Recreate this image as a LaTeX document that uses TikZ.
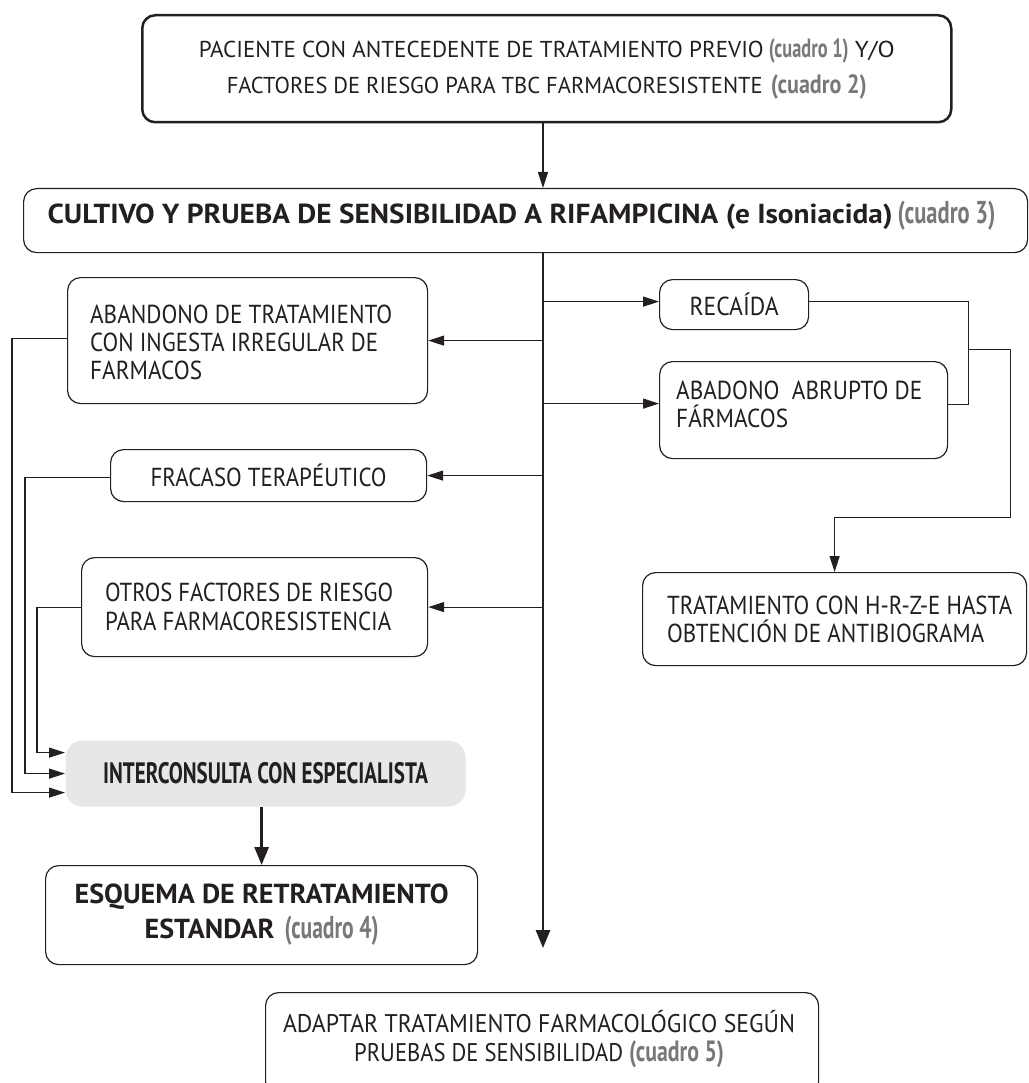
\documentclass[tikz,border=0pt]{standalone}
\usepackage{fontspec}
\setmainfont{PT Sans}
\usetikzlibrary{arrows.meta}

\definecolor{ink}{HTML}{231F20}
\definecolor{refgray}{HTML}{77787B}
\definecolor{panel}{HTML}{E6E7E8}

% set a piece of text to an exact measure, scaling it horizontally
\newcommand\fitto[2]{\sbox0{#2}\pgfmathsetmacro\fitratio{#1/\wd0}\scalebox{\fitratio}[1]{\usebox0}}
% grey bold cross reference "(cuadro n)", a little larger than the running text
\newcommand\graytag[2]{\fitto{#1}{\fontsize{\fpeval{1.15*\csname f@size\endcsname}}{10}\selectfont\bfseries\color{refgray}#2}}

\begin{document}
\begin{tikzpicture}[x=1pt,y=-1pt,
  box/.style={draw=ink, line width=1.2pt, rounded corners=13pt, anchor=north west,
              inner sep=0pt, text=ink},
  txt/.style={anchor=west, align=left, inner sep=0pt, text=ink},
  link/.style={draw=ink, line width=1.2pt},
  arr/.style={link, -{Triangle[length=16pt,width=10pt]}},
  heavy/.style={draw=ink, line width=2.8pt, -{Triangle[length=18pt,width=14pt]}},
  body/.style={font=\fontsize{26}{28}\selectfont},
]
\useasboundingbox (0,0) rectangle (1028,1083);
\clip (0,0) rectangle (1028,1083);

% ---------- boxes ----------
\node[box, line width=2.5pt, minimum width=809pt, minimum height=107pt, align=center,
      font=\fontsize{23}{36}\selectfont] (top) at (141,14)
  {\fitto{565}{PACIENTE CON ANTECEDENTE DE TRATAMIENTO PREVIO}\hspace{5pt}\graytag{80}{(cuadro 1)}\hspace{6pt}\fitto{40}{Y/O}\\
   \fitto{536}{FACTORES DE RIESGO PARA TBC FARMACORESISTENTE}\hspace{8pt}\graytag{96}{(cuadro 2)}};

\node[box, minimum width=1004pt, minimum height=64pt] (cult) at (23,188) {};
\node[anchor=center, inner sep=0pt, text=ink, font=\fontsize{27.5}{30}\selectfont] (cult-t)
  at ([xshift=-4pt,yshift=5pt]cult.center)
  {\fitto{845}{\bfseries CULTIVO Y PRUEBA DE SENSIBILIDAD A RIFAMPICINA (e Isoniacida)}\hspace{5pt}\graytag{98}{(cuadro 3)}};

\node[box, minimum width=360pt, minimum height=126pt] (aban) at (67,277) {};
\node[txt, body] (aban-t) at ([xshift=23pt,yshift=-2pt]aban.west)
  {\fitto{302}{ABANDONO DE TRATAMIENTO}\\ \fitto{288}{CON INGESTA IRREGULAR DE}\\ \fitto{112}{FARMACOS}};

\node[box, minimum width=316pt, minimum height=52pt, body] (frac) at (110,449)
  {\fitto{236}{FRACASO TERAPÉUTICO}};

\node[box, minimum width=346pt, minimum height=99pt] (otros) at (81,557) {};
\node[txt, font=\fontsize{26}{29}\selectfont] (otros-t) at ([xshift=24pt]otros.west)
  {\fitto{288}{OTROS FACTORES DE RIESGO}\\ \fitto{286}{PARA FARMACORESISTENCIA}};

\node[box, draw=none, fill=panel, rounded corners=17pt, minimum width=400pt, minimum height=66pt,
      font=\fontsize{29.5}{30}\selectfont\bfseries] (inter) at (65,740)
  {\fitto{325}{INTERCONSULTA CON ESPECIALISTA}};

\node[box, minimum width=432pt, minimum height=99pt, align=center,
      font=\fontsize{27.5}{35}\selectfont\bfseries] (esq) at (45,865)
  {\fitto{374}{ESQUEMA DE RETRATAMIENTO}\\ \fitto{130}{ESTANDAR}\hspace{10pt}\graytag{94}{(cuadro 4)}};

\node[box, minimum width=149pt, minimum height=50pt, body] (recai) at (659,279)
  {\fitto{89}{RECAÍDA}};

\node[box, minimum width=288pt, minimum height=97pt] (abru) at (659,361) {};
\node[txt, body] (abru-t) at ([xshift=17pt,yshift=5.5pt]abru.west)
  {\fitto{246}{ABADONO~~ABRUPTO DE}\\ \fitto{112}{FÁRMACOS}};

\node[box, minimum width=384pt, minimum height=93pt] (trat) at (642,572) {};
\node[txt, body] (trat-t) at ([xshift=25pt]trat.west)
  {\fitto{345}{TRATAMIENTO CON H-R-Z-E HASTA}\\ \fitto{317}{OBTENCIÓN DE ANTIBIOGRAMA}};

\node[box, minimum width=553pt, minimum height=102pt] (adapt) at (265,992) {};
\node[anchor=center, align=center, inner sep=0pt, text=ink, font=\fontsize{25.5}{29}\selectfont] (adapt-t)
  at ([xshift=-3pt,yshift=4.5pt]adapt.center)
  {\fitto{512}{ADAPTAR TRATAMIENTO FARMACOLÓGICO SEGÚN}\\ \fitto{269}{PRUEBAS DE SENSIBILIDAD}\hspace{6pt}\graytag{95}{(cuadro 5)}};

% ---------- main axis ----------
\coordinate (axis) at (543,0);
\coordinate (trunkend) at (543,948);
\draw[arr] (top.south -| axis) -- (cult.north -| axis);
\draw[heavy] (cult.south -| axis) -- (trunkend);

% branches off the axis
\draw[arr] (axis |- aban.east) -- (aban.east);
\draw[arr] (axis |- frac.east) -- (frac.east);
\draw[arr] (axis |- otros.east) -- (otros.east);
\path ([yshift=3pt]recai.west) coordinate (recai-in);
\draw[arr] (axis |- recai-in) -- (recai-in);
\path ([yshift=6.5pt]abru.west) coordinate (abru-in);
\draw[arr] (axis |- abru-in) -- (abru-in);

% right-hand bracket to the H-R-Z-E treatment
\draw[link] ([yshift=3pt]recai.east) -- ++(159,0) coordinate (rb) |- ([yshift=5.5pt]abru.east);
\path (rb) ++(0,48) coordinate (join);
\draw[arr] (join) -- ++(42,0) -- ++(0,168) -| (trat.north);

% left-hand returns to the specialist
\draw[arr] ([yshift=2pt]aban.west) -- ++(-55,0) |- ([yshift=-19pt]inter.west);
\draw[arr] ([yshift=-2pt]frac.west) -- ++(-85,0) |- (inter.west);
\draw[arr] (otros.west) -- ++(-44,0) |- ([yshift=21pt]inter.west);

\draw[heavy] (inter.south -| esq.north) -- (esq.north);
\end{tikzpicture}
\end{document}
